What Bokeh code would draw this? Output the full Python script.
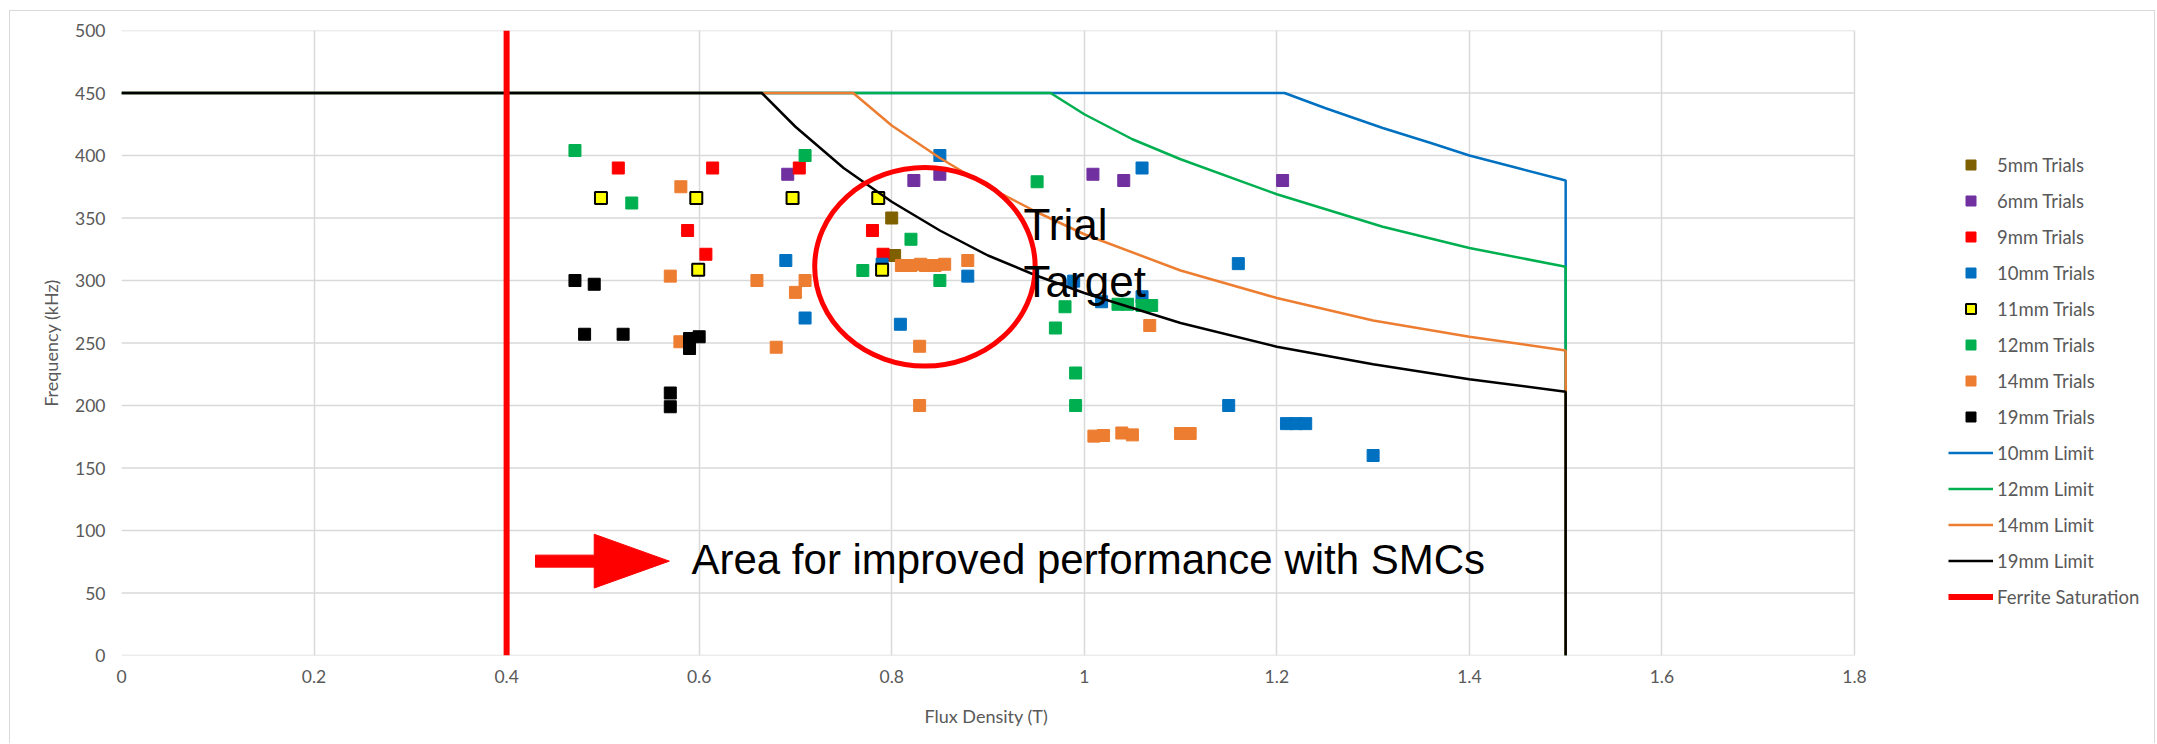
from bokeh.plotting import figure
from bokeh.models import Range1d, FixedTicker, Legend, LegendItem, Label, Title
from bokeh.embed import file_html
from bokeh.resources import INLINE

# ---------------- data ----------------
x_ticks = [0, 0.2, 0.4, 0.6, 0.8, 1, 1.2, 1.4, 1.6, 1.8]
x_tick_labels = ["0", "0.2", "0.4", "0.6", "0.8", "1", "1.2", "1.4", "1.6", "1.8"]
y_ticks = [0, 50, 100, 150, 200, 250, 300, 350, 400, 450, 500]

t5_B = [0.800, 0.803]
t5_f = [350, 320]

t6_B = [0.692, 0.823, 0.850, 1.009, 1.041, 1.206]
t6_f = [385, 380, 385, 385, 380, 380]

t9_B = [0.516, 0.614, 0.588, 0.607, 0.704, 0.780, 0.791]
t9_f = [390, 390, 340, 321, 390, 340, 321]

t10_B = [0.690, 0.710, 0.850, 0.879, 0.809, 0.790, 1.060, 1.160, 0.989, 1.018, 1.060,
         1.150, 1.210, 1.220, 1.230, 1.300]
t10_f = [316, 270, 400, 303.5, 265, 313, 390, 313.5, 299.5, 283, 287,
         200, 185.5, 185.5, 185.5, 160]

t11_B = [0.498, 0.597, 0.697, 0.786, 0.599, 0.790]
t11_f = [366, 366, 366, 366, 308.6, 308.6]

t12_B = [0.471, 0.530, 0.710, 0.770, 0.820, 0.850, 0.951, 0.980, 0.970, 0.991, 0.991,
         1.035, 1.045, 1.060, 1.070]
t12_f = [404, 362, 400, 308, 333, 300, 379, 279, 262, 226, 200,
         281, 281, 280, 280]

t14_B = [0.581, 0.570, 0.660, 0.710, 0.700, 0.580, 0.680, 0.810, 0.820, 0.830, 0.835,
         0.845, 0.855, 0.879, 0.829, 0.829, 1.068, 1.010, 1.020, 1.039, 1.050, 1.100, 1.110]
t14_f = [375, 303.5, 300, 300, 290.5, 251, 246.6, 312, 312, 313, 312,
         312, 313, 316, 247.4, 200, 264, 175.5, 176, 178, 176.5, 177.6, 177.6]

t19_B = [0.471, 0.491, 0.481, 0.521, 0.590, 0.590, 0.600, 0.570, 0.570]
t19_f = [300, 297, 257, 257, 253.6, 245.6, 255, 210, 199]

lim10_B = [0, 1.208, 1.25, 1.31, 1.36, 1.4, 1.45, 1.5, 1.5]
lim10_f = [450, 450, 438, 422, 410, 400, 390, 380, 0]

lim12_B = [0, 0.965, 1.0, 1.05, 1.1, 1.2, 1.31, 1.4, 1.5, 1.5]
lim12_f = [450, 450, 433, 413, 397, 369, 343, 326, 311, 0]

lim14_B = [0, 0.76, 0.8, 0.85, 0.9, 0.95, 1.0, 1.1, 1.2, 1.3, 1.4, 1.5, 1.5]
lim14_f = [450, 450, 424, 398, 375, 355, 337, 308, 286, 268, 255, 244, 0]

lim19_B = [0, 0.665, 0.7, 0.75, 0.8, 0.85, 0.9, 0.95, 1.0, 1.1, 1.2, 1.3, 1.4, 1.5, 1.5]
lim19_f = [450, 450, 423, 390, 363, 340, 320, 304, 290, 266, 247, 233, 221, 211, 0]

ferrite_B = [0.4, 0.4]
ferrite_f = [0, 500]

# annotation geometry (data units)
ellipse_center = (0.8345, 311)
ellipse_size = (0.229, 159)
arrow_x0, arrow_xh, arrow_xt = 0.430, 0.491, 0.569
arrow_y, shaft_half, head_half = 75.5, 4.8, 21.5

# ---------------- layout (px) ----------------
W, H = 2146, 733
LEFT, TOP, BOTTOM = 111, 19, 89
PLOT_AREA_W = 1733                      # width of the 0..1.8 plot area
FRAME_W = W - LEFT                      # frame extends under the legend column
x_end = x_ticks[-1] * FRAME_W / PLOT_AREA_W

p = figure(width=W, height=H, output_backend="svg", toolbar_location=None,
           x_range=Range1d(0, x_end), y_range=Range1d(y_ticks[0], y_ticks[-1]),
           min_border_left=LEFT, min_border_right=0, min_border_top=TOP, min_border_bottom=BOTTOM,
           background_fill_color="white", border_fill_color="white")
p.styles = {"margin-left": "9px", "margin-top": "10px",
            "border-left": "1px solid #d9d9d9", "border-top": "1px solid #d9d9d9",
            "border-right": "1px solid #d9d9d9"}
p.outline_line_color = None

p.xaxis.ticker = FixedTicker(ticks=x_ticks)
p.yaxis.ticker = FixedTicker(ticks=y_ticks)
p.xaxis.major_label_overrides = dict(zip(x_ticks, x_tick_labels))

for ax in (p.xaxis, p.yaxis):
    ax.axis_line_color = None
    ax.major_tick_line_color = None
    ax.minor_tick_line_color = None
    ax.major_tick_out = 0
    ax.major_tick_in = 0
    ax.major_label_text_font = "Lato"
    ax.major_label_text_font_size = "17.5px"
    ax.major_label_text_color = "#595959"
    ax.axis_label_text_font = "Lato"
    ax.axis_label_text_font_size = "18px"
    ax.axis_label_text_color = "#595959"
    ax.axis_label_text_font_style = "normal"

p.yaxis.axis_label = "Frequency (kHz)"
p.xaxis.major_label_standoff = 14
p.yaxis.major_label_standoff = 16
p.yaxis.axis_label_standoff = 10

p.add_layout(Title(text="Flux Density (T)", align="left", offset=803, standoff=34,
                   text_font="Lato", text_font_size="18px", text_color="#595959",
                   text_font_style="normal"), "below")

# grid: vertical lines via the axis grid, horizontal lines limited to the plot area
p.xgrid.grid_line_color = "#d9d9d9"
p.xgrid.grid_line_width = 1.5
p.ygrid.visible = False
p.segment(x0=x_ticks[0], y0=y_ticks, x1=x_ticks[-1], y1=y_ticks,
          line_color="#d9d9d9", line_width=1.5, level="underlay")

# ---------------- series ----------------
SZ = 12
r5 = p.scatter(t5_B, t5_f, marker="square", size=SZ, fill_color="#7F6000", line_color="#7F6000")
r6 = p.scatter(t6_B, t6_f, marker="square", size=SZ, fill_color="#7030A0", line_color="#7030A0")
r9 = p.scatter(t9_B, t9_f, marker="square", size=SZ, fill_color="#FF0000", line_color="#FF0000")
r10 = p.scatter(t10_B, t10_f, marker="square", size=SZ, fill_color="#0070C0", line_color="#0070C0")
r11 = p.scatter(t11_B, t11_f, marker="square", size=SZ, fill_color="#FFFF00", line_color="#000000", line_width=2)
r12 = p.scatter(t12_B, t12_f, marker="square", size=SZ, fill_color="#00B050", line_color="#00B050")
r14 = p.scatter(t14_B, t14_f, marker="square", size=SZ, fill_color="#ED7D31", line_color="#ED7D31")
r19 = p.scatter(t19_B, t19_f, marker="square", size=SZ, fill_color="#000000", line_color="#000000")

l10 = p.line(lim10_B, lim10_f, line_color="#0070C0", line_width=2.5)
l12 = p.line(lim12_B, lim12_f, line_color="#00B050", line_width=2.5)
l14 = p.line(lim14_B, lim14_f, line_color="#ED7D31", line_width=2.5)
l19 = p.line(lim19_B, lim19_f, line_color="#000000", line_width=2.5)
lf = p.line(ferrite_B, ferrite_f, line_color="#FF0000", line_width=6)

# ---------------- annotations ----------------
p.ellipse(x=[ellipse_center[0]], y=[ellipse_center[1]], width=ellipse_size[0], height=ellipse_size[1],
          fill_color=None, line_color="#FF0000", line_width=5)

arrow_xs = [arrow_x0, arrow_xh, arrow_xh, arrow_xt, arrow_xh, arrow_xh, arrow_x0]
arrow_ys = [arrow_y + shaft_half, arrow_y + shaft_half, arrow_y + head_half, arrow_y,
            arrow_y - head_half, arrow_y - shaft_half, arrow_y - shaft_half]
p.patch(arrow_xs, arrow_ys, fill_color="#FF0000", line_color="#FF0000", line_width=1)

p.add_layout(Label(x=0.592, y=77, text="Area for improved performance with SMCs",
                   text_font="Liberation Sans", text_font_size="42px", text_color="black",
                   text_baseline="alphabetic", text_align="left"))
p.add_layout(Label(x=0.937, y=345, text="Trial",
                   text_font="Liberation Sans", text_font_size="44px", text_color="black",
                   text_baseline="alphabetic", text_align="left"))
p.add_layout(Label(x=0.937, y=299, text="Target",
                   text_font="Liberation Sans", text_font_size="44px", text_color="black",
                   text_baseline="alphabetic", text_align="left"))

# ---------------- legend ----------------
items = [
    LegendItem(label="5mm Trials", renderers=[r5]),
    LegendItem(label="6mm Trials", renderers=[r6]),
    LegendItem(label="9mm Trials", renderers=[r9]),
    LegendItem(label="10mm Trials", renderers=[r10]),
    LegendItem(label="11mm Trials", renderers=[r11]),
    LegendItem(label="12mm Trials", renderers=[r12]),
    LegendItem(label="14mm Trials", renderers=[r14]),
    LegendItem(label="19mm Trials", renderers=[r19]),
    LegendItem(label="10mm Limit", renderers=[l10]),
    LegendItem(label="12mm Limit", renderers=[l12]),
    LegendItem(label="14mm Limit", renderers=[l14]),
    LegendItem(label="19mm Limit", renderers=[l19]),
    LegendItem(label="Ferrite Saturation", renderers=[lf]),
]
legend = Legend(items=items, location=(1827, 46), orientation="vertical",
                glyph_width=45, glyph_height=25, label_height=25, spacing=11,
                label_standoff=4, padding=0, margin=0,
                border_line_alpha=0, background_fill_alpha=0,
                label_text_font="Lato", label_text_font_size="18.5px",
                label_text_color="#595959")
p.add_layout(legend)

open("out.html", "w").write(file_html(p, INLINE))
